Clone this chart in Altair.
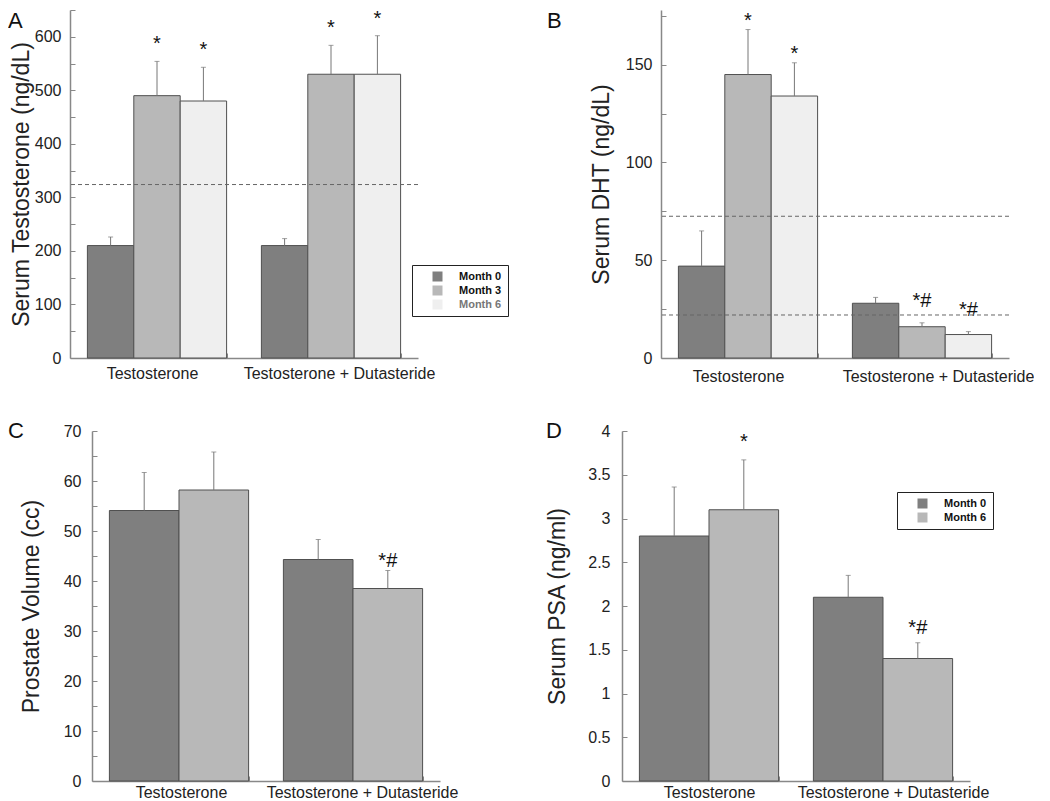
import altair as alt
import pandas as pd

FONT = "Liberation Sans"

groups = ["Testosterone", "Testosterone + Dutasteride"]
months3 = ["Month 0", "Month 3", "Month 6"]
months2 = ["Month 0", "Month 6"]
colors3 = ["#7f7f7f", "#b8b8b8", "#efefef"]
colors2 = ["#7f7f7f", "#b8b8b8"]

# Panel A: serum testosterone (ng/dL)
a_mean_T = [210, 490, 480]
a_err_T = [16, 64, 63]
a_sig_T = ["", "*", "*"]
a_mean_TD = [210, 530, 530]
a_err_TD = [13, 54, 72]
a_sig_TD = ["", "*", "*"]
a_ref = [324]
a_ticks = [0, 50, 100, 150, 200, 250, 300, 350, 400, 450, 500, 550, 600, 650]

# Panel B: serum DHT (ng/dL)
b_mean_T = [47, 145, 134]
b_err_T = [18, 23, 17]
b_sig_T = ["", "*", "*"]
b_mean_TD = [28, 16, 12]
b_err_TD = [3, 2, 1.5]
b_sig_TD = ["", "*#", "*#"]
b_ref = [72.5, 22]
b_ticks = [0, 25, 50, 75, 100, 125, 150, 175]

# Panel C: prostate volume (cc)
c_mean_T = [54.1, 58.2]
c_err_T = [7.6, 7.6]
c_sig_T = ["", ""]
c_mean_TD = [44.3, 38.5]
c_err_TD = [4.0, 3.6]
c_sig_TD = ["", "*#"]
c_ticks = [0, 5, 10, 15, 20, 25, 30, 35, 40, 45, 50, 55, 60, 65, 70]

# Panel D: serum PSA (ng/ml)
d_mean_T = [2.8, 3.1]
d_err_T = [0.56, 0.57]
d_sig_T = ["", "*"]
d_mean_TD = [2.1, 1.4]
d_err_TD = [0.25, 0.18]
d_sig_TD = ["", "*#"]
d_ticks = [0, 0.5, 1, 1.5, 2, 2.5, 3, 3.5, 4]


def table(months, mT, eT, sT, mTD, eTD, sTD):
    rows = []
    for g, means, errs, sigs in [(groups[0], mT, eT, sT), (groups[1], mTD, eTD, sTD)]:
        for m, v, e, s in zip(months, means, errs, sigs):
            rows.append({"group": g, "month": m, "value": v, "top": v + e, "sig": s})
    return pd.DataFrame(rows)


def panel(df, months, colors, title, domain, ticks, major, fmt, width, height,
          xrange, yoffset, title_x, ylab_pad, xlab_pad, xlab_shift, legend, refs,
          letter, letter_xy, star_dy, hash_dy):
    xscale = dict(domain=groups, paddingInner=0.2, paddingOuter=0.1)
    if xrange is not None:
        xscale["range"] = xrange
    xaxis = alt.Axis(title=None, labelAngle=0, labelFontSize=16, labelColor="#222",
                     labelFont=FONT, labelPadding=xlab_pad, labelOverlap=False,
                     labelLimit=0, tickBand="extent", tickSize={"expr": "-5"},
                     labelOffset={"expr": f"datum.value == '{groups[0]}' ? {xlab_shift[0]} : {xlab_shift[1]}"},
                     tickColor="#888", domainColor="#888", domainWidth=1.5, grid=False)
    x = alt.X("group:N", sort=groups, scale=alt.Scale(**xscale), axis=xaxis)
    xo = alt.XOffset("month:N", sort=months,
                     scale=alt.Scale(domain=months, paddingInner=0, paddingOuter=0))
    yaxis_kw = dict(title=title, values=ticks, offset=yoffset, grid=False,
                    titleX=title_x, titleY=height / 2, titleAngle=270,
                    titleBaseline="top", titleAlign="center", titleFontSize=23,
                    titleFontWeight="normal", titleFont=FONT, titleColor="#222",
                    tickSize={"expr": "-5"}, tickColor="#888", domainColor="#888",
                    domainWidth=1.5, labelPadding=ylab_pad,
                    labelColor="#222", labelFont=FONT, labelOverlap=False)
    if major:
        yaxis_kw["labelExpr"] = f"datum.value % {major} === 0 ? datum.label : ''"
        yaxis_kw["labelFontSize"] = {"expr": f"datum.value % {major} === 0 ? 16 : 0"}
    else:
        yaxis_kw["labelFontSize"] = 16
    if fmt:
        yaxis_kw["format"] = fmt
    yaxis = alt.Axis(**yaxis_kw)
    yscale = alt.Scale(domain=domain, nice=False, zero=True)

    def Y(field):
        return alt.Y(field, scale=yscale, axis=yaxis)

    base = alt.Chart(df)
    bars = base.mark_bar(stroke="#505050", strokeWidth=1).encode(
        x=x, xOffset=xo, y=Y("value:Q"),
        fill=alt.Fill("month:N", sort=months,
                      scale=alt.Scale(domain=months, range=colors), legend=legend),
    )
    err = base.mark_rule(color="#777", strokeWidth=1).encode(
        x=x, xOffset=xo, y=Y("value:Q"), y2=alt.Y2("top:Q"))
    caps = base.mark_tick(color="#777", size=5, thickness=1).encode(
        x=x, xOffset=xo, y=Y("top:Q"))
    sig = base.mark_text(
        fontSize=20, baseline="alphabetic", font=FONT, color="#111",
        dy={"expr": f"datum.sig == '*#' ? {hash_dy} : {star_dy}"},
    ).encode(x=x, xOffset=xo, y=Y("top:Q"), text="sig:N")
    layers = [bars, err, caps, sig]
    if refs:
        rl = alt.Chart(pd.DataFrame({"ref": refs})).mark_rule(
            strokeDash=[4, 3], color="#666", strokeWidth=1).encode(y=Y("ref:Q"))
        layers.append(rl)
    lt = alt.Chart(pd.DataFrame({"t": [letter]})).mark_text(
        fontSize=22, align="left", baseline="top", font=FONT, color="#111").encode(
        text="t:N", x=alt.value(letter_xy[0]), y=alt.value(letter_xy[1]))
    layers.append(lt)
    return alt.layer(*layers).properties(width=width, height=height)


def make_legend(x, y, grey_last):
    kw = dict(title=None, orient="none", legendX=x, legendY=y, direction="vertical",
              symbolType="square", symbolSize=100, symbolStrokeWidth=0,
              symbolOffset=14, labelOffset=16, labelFont=FONT, labelFontSize=11,
              labelFontWeight="bold", rowPadding=2, padding=6,
              strokeColor="#222", fillColor="white")
    if grey_last:
        kw["labelColor"] = {"expr": "datum.label == 'Month 6' ? '#777' : '#111'"}
    else:
        kw["labelColor"] = "#111"
    return alt.Legend(**kw)


A = panel(table(months3, a_mean_T, a_err_T, a_sig_T, a_mean_TD, a_err_TD, a_sig_TD),
          months3, colors3, "Serum Testosterone (ng/dL)", [0, 650], a_ticks,
          100, None, 348, 348,
          None, 0, -60, 14, 12, (-5, 8), make_legend(342, 255, True), a_ref, "A", (-62, 1),
          -11, -11)
B = panel(table(months3, b_mean_T, b_err_T, b_sig_T, b_mean_TD, b_err_TD, b_sig_TD),
          months3, colors3, "Serum DHT (ng/dL)", [0, 178], b_ticks,
          50, None, 348, 348,
          None, 0, -71, 14, 15, (-10, 16), None, b_ref, "B", (-114, 1),
          -3, -16)
C = panel(table(months2, c_mean_T, c_err_T, c_sig_T, c_mean_TD, c_err_TD, c_sig_TD),
          months2, colors2, "Prostate Volume (cc)", [0, 70], c_ticks,
          10, None, 370, 350,
          [22, 370], -22, -72, 16, 8, (2, 9), None, None, "C", (-62, -10),
          -9, -4)
D = panel(table(months2, d_mean_T, d_err_T, d_sig_T, d_mean_TD, d_err_TD, d_sig_TD),
          months2, colors2, "Serum PSA (ng/ml)", [0, 4], d_ticks,
          None, "~g", 309, 350,
          [-39, 309], 39, -76, 17, 8, (0, 10), make_legend(236, 61, False), None, "D",
          (-115, -10), -12, -9)

chart = alt.concat(A, B, C, D, columns=2, spacing={"row": 73, "column": 221}).properties(
    bounds="flush", align="each", padding=0
).resolve_scale(
    x="independent", y="independent", xOffset="independent", fill="independent"
).resolve_legend(fill="independent").configure(font=FONT).configure_view(stroke=None)

chart.save("out.html", embed_options={"renderer": "svg", "actions": False})
